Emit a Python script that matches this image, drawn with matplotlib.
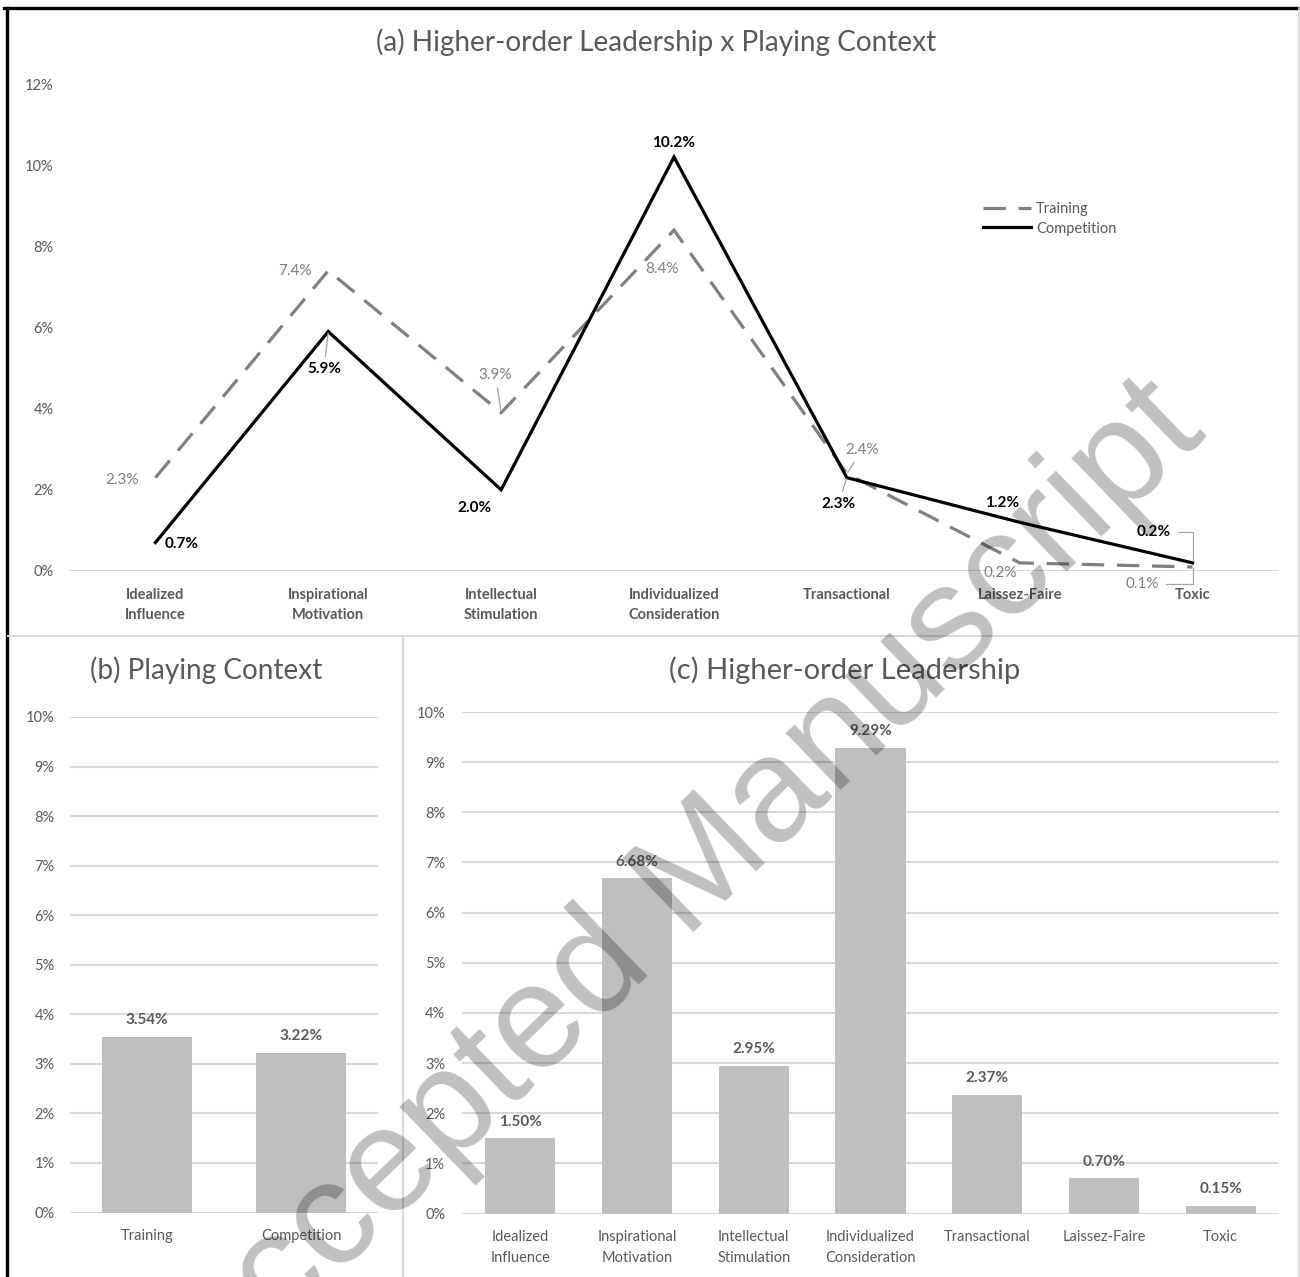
import matplotlib
matplotlib.use("Agg")
import matplotlib.pyplot as plt
from matplotlib.lines import Line2D
import numpy as np

plt.rcParams['font.family'] = ['Lato', 'DejaVu Sans']

# ---------------- data ----------------
leaders_a = ["Idealized\nInfluence", "Inspirational\nMotivation", "Intellectual\nStimulation",
             "Individualized\nConsideration", "Transactional", "Laissez-Faire", "Toxic"]
training_a = [2.3, 7.4, 3.9, 8.4, 2.4, 0.2, 0.1]
competition_a = [0.7, 5.9, 2.0, 10.2, 2.3, 1.2, 0.2]

context_b = ["Training", "Competition"]
values_b = [3.54, 3.22]

leaders_c = ["Idealized\nInfluence", "Inspirational\nMotivation", "Intellectual\nStimulation",
             "Individualized\nConsideration", "Transactional", "Laissez-Faire", "Toxic"]
values_c = [1.50, 6.68, 2.95, 9.29, 2.37, 0.70, 0.15]

# label offsets (points) for panel (a)
train_off = [(-12, -2, 'right', False), (-12, 0, 'right', False), (-4, 27, 'center', True),
             (-9, -28, 'center', False), (11, 17, 'center', True), (-14, -7, 'center', False),
             (-36, -12, 'center', 'angle')]
comp_off = [(19, -1, 'center', False), (-3, -27, 'center', True), (-19, -13, 'center', False),
            (0, 10, 'center', False), (-6, -19, 'center', True), (-13, 14, 'center', False),
            (-28, 22, 'center', 'angle')]

W, H = 1300, 1277
fig = plt.figure(figsize=(W / 100, H / 100), dpi=100)
TXT = '#595959'
GRID = '#d9d9d9'
BAR = '#bfbfbf'


def fx(px):
    return px / W


def fy(py):
    return 1 - py / H


# ---------------- panel (a) ----------------
axa = fig.add_axes([fx(69), fy(571), fx(1279) - fx(69), fy(84) - fy(571)])
x = np.arange(len(leaders_a))
axa.plot(x, training_a, color='#808080', lw=2.3, dashes=(7, 4), label='Training',
         solid_joinstyle='miter', dash_joinstyle='miter', zorder=3)
axa.plot(x, competition_a, color='black', lw=2.3, label='Competition',
         solid_joinstyle='miter', zorder=4)
axa.set_xlim(-0.5, 6.5)
axa.set_ylim(0, 12)
axa.set_yticks(np.arange(0, 13, 2))
axa.set_yticklabels([f"{v}%" for v in range(0, 13, 2)])
axa.set_xticks(x)
axa.set_xticklabels(leaders_a, fontweight='bold', linespacing=1.55)
axa.tick_params(axis='both', length=0, colors=TXT, labelsize=10.5)
axa.tick_params(axis='y', pad=11, labelsize=10.5)
axa.tick_params(axis='x', pad=12)
for s in axa.spines.values():
    s.set_visible(False)
axa.axhline(0, color=GRID, lw=1.5, zorder=1)


def lab(ax, xi, yi, off, txt, color, weight):
    dx, dy, ha, leader = off
    kw = {}
    if leader is True:
        kw['arrowprops'] = dict(arrowstyle='-', color='#a6a6a6', lw=0.9, shrinkA=2, shrinkB=1)
    elif leader == 'angle':
        kw['arrowprops'] = dict(arrowstyle='-', color='#a6a6a6', lw=0.9, shrinkA=3, shrinkB=1,
                                connectionstyle='angle,angleA=0,angleB=90,rad=0')
    ax.annotate(txt, (xi, yi), xytext=(dx, dy), textcoords='offset points', ha=ha, va='center',
                fontsize=11, color=color, fontweight=weight, zorder=5, **kw)


for i in range(len(x)):
    lab(axa, x[i], training_a[i], train_off[i], f"{training_a[i]:.1f}%", '#7f7f7f', 'normal')
    lab(axa, x[i], competition_a[i], comp_off[i], f"{competition_a[i]:.1f}%", 'black', 'bold')

leg = axa.legend(loc='center left', bbox_to_anchor=((983 - 69) / 1210, (571 - 219) / 487),
                 frameon=False, fontsize=10.5, handlelength=3.3, handletextpad=0.35,
                 labelspacing=0.35, borderpad=0, borderaxespad=0)
for t in leg.get_texts():
    t.set_color(TXT)

fig.text(fx(656), fy(42), "(a) Higher-order Leadership x Playing Context", ha='center', va='center',
         fontsize=20.2, color=TXT)

# ---------------- panel (b) ----------------
axb = fig.add_axes([fx(70), fy(1212.5), fx(378) - fx(70), fy(717) - fy(1212.5)])
xb = np.arange(len(context_b))
axb.bar(xb, values_b, width=0.585, color=BAR, zorder=2)
axb.set_xlim(-0.5, 1.5)
axb.set_ylim(0, 10)
axb.set_yticks(range(0, 11))
axb.set_yticklabels([f"{v}%" for v in range(0, 11)])
axb.set_xticks(xb)
axb.set_xticklabels(context_b)
axb.tick_params(axis='both', length=0, colors=TXT, labelsize=10.5)
axb.tick_params(axis='y', pad=11)
axb.tick_params(axis='x', pad=12)
axb.grid(axis='y', color=GRID, lw=1.5, zorder=0)
for s in axb.spines.values():
    s.set_visible(False)
for xi, v in zip(xb, values_b):
    axb.annotate(f"{v:.2f}%", (xi, v), xytext=(0, 7), textcoords='offset points', ha='center',
                 va='bottom', fontsize=11, fontweight='bold', color=TXT)
fig.text(fx(90), fy(670), "(b) Playing Context", ha='left', va='center', fontsize=20.2, color=TXT)

# ---------------- panel (c) ----------------
axc = fig.add_axes([fx(462), fy(1213.5), fx(1279) - fx(462), fy(712) - fy(1213.5)])
xc = np.arange(len(leaders_c))
axc.bar(xc, values_c, width=0.6, color=BAR, zorder=2)
axc.set_xlim(-0.5, 6.5)
axc.set_ylim(0, 10)
axc.set_yticks(range(0, 11))
axc.set_yticklabels([f"{v}%" for v in range(0, 11)])
axc.set_xticks(xc)
axc.set_xticklabels(leaders_c, linespacing=1.65)
axc.tick_params(axis='both', length=0, colors=TXT, labelsize=10.5)
axc.tick_params(axis='y', pad=12)
axc.tick_params(axis='x', pad=12)
axc.grid(axis='y', color=GRID, lw=1.5, zorder=0)
for s in axc.spines.values():
    s.set_visible(False)
for xi, v in zip(xc, values_c):
    axc.annotate(f"{v:.2f}%", (xi, v), xytext=(0, 7), textcoords='offset points', ha='center',
                 va='bottom', fontsize=11, fontweight='bold', color=TXT)
fig.text(fx(845), fy(670), "(c) Higher-order Leadership", ha='center', va='center',
         fontsize=21, color=TXT)

# ---------------- frame lines ----------------
fig.add_artist(Line2D([fx(4), 1], [fy(8), fy(8)], color='black', lw=2.4))
fig.add_artist(Line2D([fx(7), fx(7)], [0, fy(8)], color='black', lw=2.4))
fig.add_artist(Line2D([fx(1298.5), fx(1298.5)], [0, fy(8)], color=GRID, lw=1.2))
fig.add_artist(Line2D([fx(8), fx(1298)], [fy(636), fy(636)], color=GRID, lw=1.5))
fig.add_artist(Line2D([fx(403), fx(403)], [0, fy(636)], color=GRID, lw=1.5))

# ---------------- watermark ----------------
fig.text(fx(682), fy(890), "Accepted Manuscript", rotation=44, rotation_mode='anchor',
         ha='center', va='center', fontsize=107, color='black', alpha=0.25,
         family=['Liberation Sans', 'DejaVu Sans'], zorder=10)

fig.savefig('out.png', dpi=100)
